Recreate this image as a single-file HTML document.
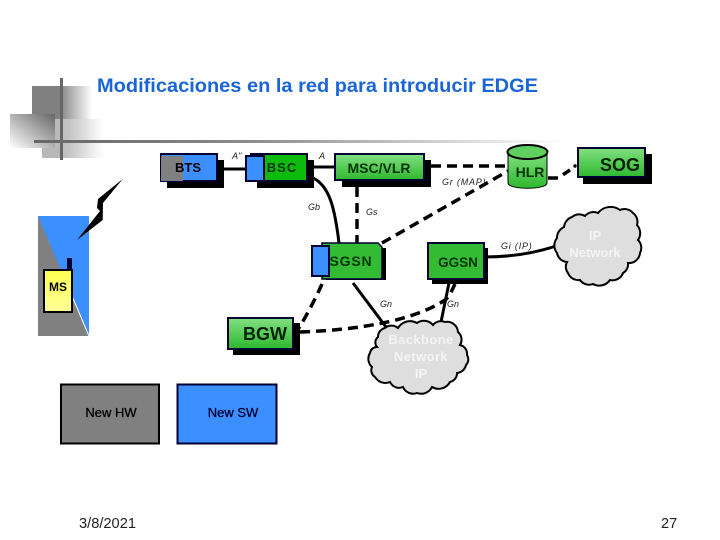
<!DOCTYPE html>
<html><head><meta charset="utf-8"><style>
html,body{margin:0;padding:0;background:#fff;width:720px;height:540px;overflow:hidden}
svg{display:block}
text{font-family:"Liberation Sans",sans-serif}
</style></head><body>
<svg width="720" height="540" viewBox="0 0 720 540" xmlns="http://www.w3.org/2000/svg">
<defs>
<linearGradient id="f1" x1="0" x2="1" y1="0" y2="0"><stop offset="0" stop-color="#808080"/><stop offset=".45" stop-color="#808080"/><stop offset="1" stop-color="#fff"/></linearGradient>
<linearGradient id="f2" x1="1" x2="0" y1="0" y2="1"><stop offset="0" stop-color="#666"/><stop offset="1" stop-color="#fff"/></linearGradient>
<linearGradient id="f3" x1="0" x2="1" y1="0" y2="0"><stop offset="0" stop-color="#b8b8b8"/><stop offset=".3" stop-color="#c4c4c4"/><stop offset="1" stop-color="#fff"/></linearGradient>
<linearGradient id="hl" x1="0" x2="1" y1="0" y2="0"><stop offset="0" stop-color="#666"/><stop offset=".4" stop-color="#8a8a8a"/><stop offset="1" stop-color="#fff"/></linearGradient>
<linearGradient id="g1" x1="0" x2="0" y1="0" y2="1"><stop offset="0" stop-color="#82e082"/><stop offset="1" stop-color="#2eb82e"/></linearGradient>
<linearGradient id="ye" x1="0" x2="0" y1="0" y2="1"><stop offset="0" stop-color="#ffff50"/><stop offset="1" stop-color="#ffff9a"/></linearGradient>
</defs>

<!-- decoration -->
<rect x="32" y="86" width="60" height="48" fill="url(#f1)"/>
<rect x="55" y="119" width="48" height="39" fill="url(#f3)"/>
<rect x="42" y="148" width="20" height="10" fill="#b8b8b8"/>
<rect x="10" y="114" width="45" height="34" fill="url(#f2)"/>
<rect x="60" y="78" width="3" height="82" fill="#666"/>
<rect x="34" y="140" width="530" height="3" fill="url(#hl)"/>

<text x="97" y="92" font-size="19.500" font-weight="bold" fill="#1b66d6" textLength="441" lengthAdjust="spacingAndGlyphs">Modificaciones en la red para introducir EDGE</text>

<!-- connectors -->
<g fill="none" stroke="#000" stroke-width="3">
<path d="M217 169H250"/>
<path d="M307 167H335"/>
<path d="M313 178C330 186 335 210 339 243"/>
<path d="M484 257C510 257 535 253 556 246"/>
<path d="M353 283L386 327"/>
<path d="M449 283L441 322"/>
<g stroke-dasharray="10 6" stroke-width="3.500">
<path d="M357 187V243"/>
<path d="M431 166H507"/>
<path d="M382 243L508 171"/>
<path d="M548 178H558L570 170"/>
<path d="M322 284C315 300 305 318 299 328"/>
<path d="M300 332C360 330 415 320 445 300C450 296 452 290 455 284"/>
</g>
<circle cx="575" cy="166" r="1.200" fill="#000" stroke-width="1"/>
</g>

<!-- boxes -->
<rect x="167" y="160" width="57" height="28" fill="#000"/>
<rect x="161" y="154" width="56" height="27" fill="#3b8fff" stroke="#000033" stroke-width="2"/>
<rect x="161" y="156" width="22" height="25" fill="#808080"/>
<text x="188" y="172" font-size="13" font-weight="bold" text-anchor="middle" fill="#000">BTS</text>

<rect x="257" y="160" width="57" height="28" fill="#000"/>
<rect x="251" y="154" width="56" height="27" fill="#0dbb0d" stroke="#000033" stroke-width="2"/>
<rect x="246" y="156" width="18" height="25" fill="#3b8fff" stroke="#000033" stroke-width="2"/>
<text x="282" y="172" font-size="13" font-weight="bold" text-anchor="middle" letter-spacing="1" fill="#003300">BSC</text>

<rect x="342" y="160" width="89" height="27" fill="#000"/>
<rect x="335" y="154" width="89" height="26" fill="url(#g1)" stroke="#000033" stroke-width="2"/>
<text x="379" y="173" font-size="14" font-weight="bold" text-anchor="middle" fill="#003300">MSC/VLR</text>

<rect x="326" y="248" width="60" height="32" fill="#000"/>
<path d="M322 243H378L382 247V279H322Z" fill="#33bb33" stroke="#000033" stroke-width="1.500"/>
<rect x="312" y="246" width="17" height="30" fill="#3b8fff" stroke="#000033" stroke-width="2"/>
<text x="351" y="266" font-size="14" font-weight="bold" text-anchor="middle" letter-spacing=".8" fill="#003300">SGSN</text>

<rect x="432" y="248" width="56" height="36" fill="#000"/>
<rect x="428" y="243" width="56" height="36" fill="#33bb33" stroke="#000033" stroke-width="2"/>
<text x="458" y="267" font-size="13.500" font-weight="bold" text-anchor="middle" fill="#003300">GGSN</text>

<!-- HLR -->
<path d="M508 152V183C508 190 547 190 547 183V152Z" fill="url(#g1)"/>
<ellipse cx="527.500" cy="152" rx="20" ry="7" fill="#5fd05f" stroke="#000" stroke-width="2"/>
<path d="M508 152V183C508 190 547 190 547 183V152" fill="none" stroke="#000" stroke-width="1"/>
<text x="530" y="177" font-size="14" font-weight="bold" text-anchor="middle" fill="#003300">HLR</text>

<rect x="583" y="154" width="69" height="30" fill="#000"/>
<rect x="578" y="148" width="67" height="29" fill="url(#g1)" stroke="#000033" stroke-width="2"/>
<text x="620" y="171" font-size="18" font-weight="bold" text-anchor="middle" fill="#002200">SOG</text>

<rect x="233" y="323" width="67" height="32" fill="#000"/>
<rect x="228" y="318" width="65" height="31" fill="url(#g1)" stroke="#000033" stroke-width="2"/>
<text x="265" y="340" font-size="18" font-weight="bold" text-anchor="middle" fill="#002200">BGW</text>

<!-- clouds -->
<path d="M564 227A12 12 0 0 1 572 217A11 11 0 0 1 585 216A11 11 0 0 1 598 213A16 16 0 0 1 620 210A11 11 0 0 1 633 213A11 11 0 0 1 637 225A12 12 0 0 1 638 240A11 11 0 0 1 640 253A11 11 0 0 1 628 263A10 10 0 0 1 623 273A11 11 0 0 1 610 280A13 13 0 0 1 593 284A11 11 0 0 1 580 280A11 11 0 0 1 568 273A10 10 0 0 1 567 262A11 11 0 0 1 557 253A12 12 0 0 1 557 238A12 12 0 0 1 564 227Z" fill="#dedede" stroke="#000" stroke-width="2"/>
<text x="595" y="240" font-size="13" font-weight="bold" text-anchor="middle" fill="#f4f4f4">IP</text>
<text x="595" y="257" font-size="13" font-weight="bold" text-anchor="middle" fill="#f4f4f4">Network</text>

<path d="M378 337A9 9 0 0 1 385 328A10 10 0 0 1 398 328A14 14 0 0 1 417 323A12 12 0 0 1 433 325A10 10 0 0 1 445 322A11 11 0 0 1 458 332A10 10 0 0 1 460 345A9 9 0 0 1 467 355A8 8 0 0 1 466 365A10 10 0 0 1 457 373A9 9 0 0 1 450 382A13 13 0 0 1 432 387A12 12 0 0 1 417 393A11 11 0 0 1 403 387A10 10 0 0 1 390 382A12 12 0 0 1 375 377A8 8 0 0 1 372 367A11 11 0 0 1 370 353A7 7 0 0 1 377 347A7 7 0 0 1 378 337Z" fill="#dedede" stroke="#000" stroke-width="2"/>
<text x="421" y="344" font-size="13" font-weight="bold" text-anchor="middle" letter-spacing=".4" fill="#f4f4f4">Backbone</text>
<text x="421" y="361" font-size="13" font-weight="bold" text-anchor="middle" letter-spacing=".4" fill="#f4f4f4">Network</text>
<text x="421" y="378" font-size="13" font-weight="bold" text-anchor="middle" fill="#f4f4f4">IP</text>

<!-- MS -->
<rect x="38" y="216" width="51" height="120" fill="#3b8fff"/>
<polygon points="38,216 89,336 38,336" fill="#808080"/>
<path d="M72 296L89 336" stroke="#fff" stroke-width="1"/>
<rect x="67" y="258" width="5" height="13" fill="#000033"/>
<rect x="44" y="270" width="28" height="42" fill="url(#ye)" stroke="#000" stroke-width="2"/>
<text x="58" y="291" font-size="12" font-weight="bold" text-anchor="middle" fill="#000">MS</text>
<polygon points="122.700,179 103,203 102.700,220 77,240 100,211 97,208 98,199" fill="#000"/>

<!-- legend -->
<rect x="61" y="384.500" width="98" height="59" fill="#808080" stroke="#000" stroke-width="2"/>
<text x="111" y="417" font-size="13" text-anchor="middle" stroke="#000" stroke-width=".3" fill="#000">New HW</text>
<rect x="177.500" y="384.500" width="99" height="59" fill="#3b8fff" stroke="#000033" stroke-width="2"/>
<text x="233" y="417" font-size="13" text-anchor="middle" stroke="#000033" stroke-width=".3" fill="#000033">New SW</text>

<!-- labels -->
<g font-size="9" font-style="italic" fill="#222">
<text x="232" y="159">A''</text>
<text x="319" y="159">A</text>
<text x="308" y="210">Gb</text>
<text x="366" y="215">Gs</text>
<text x="442" y="185" letter-spacing=".8">Gr (MAP)</text>
<text x="501" y="249" letter-spacing=".8">Gi (IP)</text>
<text x="380" y="307">Gn</text>
<text x="447" y="307">Gn</text>
</g>
<text x="79" y="528" font-size="14.500" fill="#222" textLength="57" lengthAdjust="spacingAndGlyphs">3/8/2021</text>
<text x="661" y="528" font-size="14.500" fill="#222">27</text>
</svg>
</body></html>
